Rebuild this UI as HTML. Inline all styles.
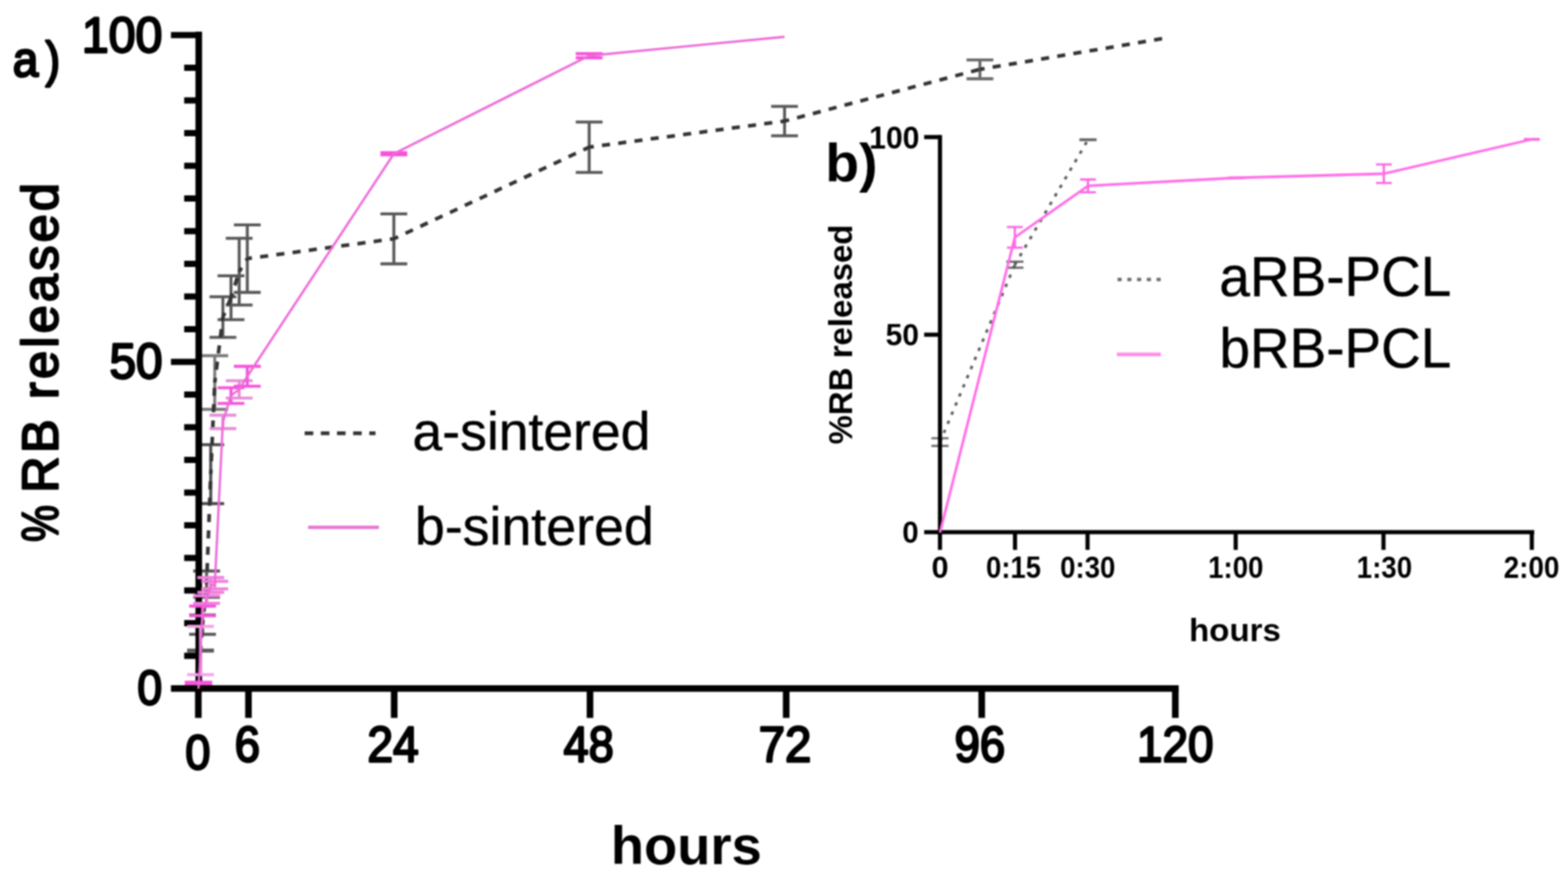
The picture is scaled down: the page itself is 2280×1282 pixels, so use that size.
<!DOCTYPE html>
<html lang="en">
<head>
<meta charset="utf-8">
<title>RB release profiles</title>
<style>
html, body { margin: 0; padding: 0; background: #fff; }
body { width: 2280px; height: 1282px; overflow: hidden; }
svg { display: block; }
#plot { filter: blur(1.0px); }
</style>
</head>
<body>
<svg width="2280" height="1282" viewBox="0 0 2280 1282">
<rect width="2280" height="1282" fill="#fff"/>
<g id="plot">
<path d="M272.1 944.8H311.1M272.1 946.4H311.1M291.6 944.8V946.4" stroke="#585858" stroke-width="4.3" fill="none"/>
<path d="M275.0 894.0H314.0M275.0 922.0H314.0M294.5 894.0V922.0" stroke="#585858" stroke-width="4.3" fill="none"/>
<path d="M280.9 830.0H319.9M280.9 868.0H319.9M300.4 830.0V868.0" stroke="#585858" stroke-width="4.3" fill="none"/>
<path d="M286.9 646.4H325.9M286.9 732.0H325.9M306.4 646.4V732.0" stroke="#4a4a4a" stroke-width="4.3" fill="none"/>
<path d="M292.8 517.0H331.8M292.8 595.0H331.8M312.3 517.0V595.0" stroke="#7a7a7a" stroke-width="4.3" fill="none"/>
<path d="M304.6 431.3H343.6M304.6 490.4H343.6M324.1 431.3V490.4" stroke="#585858" stroke-width="4.3" fill="none"/>
<path d="M316.4 400.9H355.4M316.4 464.6H355.4M335.9 400.9V464.6" stroke="#585858" stroke-width="4.3" fill="none"/>
<path d="M328.3 346.3H367.3M328.3 443.3H367.3M347.8 346.3V443.3" stroke="#585858" stroke-width="4.3" fill="none"/>
<path d="M340.1 326.8H379.1M340.1 425.0H379.1M359.6 326.8V425.0" stroke="#585858" stroke-width="4.3" fill="none"/>
<path d="M553.2 310.8H592.2M553.2 383.5H592.2M572.7 310.8V383.5" stroke="#585858" stroke-width="4.3" fill="none"/>
<path d="M837.2 177.3H876.2M837.2 250.6H876.2M856.7 177.3V250.6" stroke="#585858" stroke-width="4.3" fill="none"/>
<path d="M1121.3 154.6H1160.3M1121.3 197.4H1160.3M1140.8 154.6V197.4" stroke="#585858" stroke-width="4.3" fill="none"/>
<path d="M1405.4 87.2H1444.4M1405.4 114.5H1444.4M1424.9 87.2V114.5" stroke="#6a6a6a" stroke-width="4.3" fill="none"/>
<path d="M288.6 1001.0L291.6 945.6M291.6 945.6L294.5 908.0M294.5 908.0L300.4 849.0M300.4 849.0L306.4 689.2M306.4 689.2L312.3 556.0M312.3 556.0L324.1 460.9M324.1 460.9L335.9 432.8M335.9 432.8L347.8 394.8M347.8 394.8L359.6 375.9M359.6 375.9L572.7 347.1M572.7 347.1L856.7 213.9M856.7 213.9L1140.8 176.0M1140.8 176.0L1424.9 100.8M1424.9 100.8L1700.6 54.4" stroke="#333" stroke-width="5.3" fill="none" stroke-dasharray="11.8 12" stroke-dashoffset="5"/>
<path d="M1354.3 637.0H1379.3M1354.3 648.2H1379.3M1366.8 637.0V648.2" stroke="#6a6a6a" stroke-width="3.2" fill="none"/>
<path d="M1463.2 380.4H1488.2M1463.2 389.2H1488.2M1475.7 380.4V389.2" stroke="#6a6a6a" stroke-width="3.2" fill="none"/>
<path d="M1569.5 202.7H1594.5M1569.5 203.7H1594.5M1582.0 202.7V203.7" stroke="#6a6a6a" stroke-width="3.2" fill="none"/>
<path d="M1366.8 642.6L1475.7 384.8M1475.7 384.8L1582.0 203.2" stroke="#5c5c5c" stroke-width="4.0" fill="none" stroke-dasharray="5 9.4" stroke-dashoffset="0"/>
<g stroke="#000" fill="none">
<path d="M289.0 46.0 V1005.6" stroke-width="9.6"/>
<path d="M248.6 1000.8 H1713.9" stroke-width="9.6"/>
<path d="M267.8 953.3H288.6M267.8 905.8H288.6M267.8 858.3H288.6M267.8 810.9H288.6M267.8 763.4H288.6M267.8 715.9H288.6M267.8 668.4H288.6M267.8 620.9H288.6M267.8 573.4H288.6M248.6 525.9H288.6M267.8 478.5H288.6M267.8 431.0H288.6M267.8 383.5H288.6M267.8 336.0H288.6M267.8 288.5H288.6M267.8 241.0H288.6M267.8 193.6H288.6M267.8 146.1H288.6M267.8 98.6H288.6M248.6 51.1H288.6" stroke-width="9.0"/>
<path d="M288.4 1000.8V1043.5M361.3 1000.8V1043.5M573.2 1000.8V1043.5M857.9 1000.8V1043.5M1143.2 1000.8V1043.5M1427.5 1000.8V1043.5M1709.0 1000.8V1043.5" stroke-width="9.6"/>
</g>
<g stroke="#000" stroke-width="6" fill="none">
<path d="M1366.8 196.3 V799.3"/>
<path d="M1343.8 773.6 H2230.9"/>
<path d="M1343.8 486.4H1366.8M1343.8 199.3H1366.8M1475.9 773.6V799.3M1581.4 773.6V799.3M1796.8 773.6V799.3M2011.7 773.6V799.3M2227.4 773.6V799.3"/>
</g>
<path d="M272.1 910.5H311.1M272.1 980.7H311.1M291.6 910.5V980.7" stroke="#f3a4e6" stroke-width="4.3" fill="none"/>
<path d="M275.0 881.0H314.0M275.0 895.0H314.0M294.5 881.0V895.0" stroke="#f652da" stroke-width="4.3" fill="none"/>
<path d="M280.9 866.0H319.9M280.9 877.0H319.9M300.4 866.0V877.0" stroke="#f07fdc" stroke-width="4.3" fill="none"/>
<path d="M286.9 839.5H325.9M286.9 861.0H325.9M306.4 839.5V861.0" stroke="#f07fdc" stroke-width="4.3" fill="none"/>
<path d="M292.8 845.0H331.8M292.8 856.0H331.8M312.3 845.0V856.0" stroke="#f07fdc" stroke-width="4.3" fill="none"/>
<path d="M304.6 603.5H343.6M304.6 623.0H343.6M324.1 603.5V623.0" stroke="#e48fd6" stroke-width="4.3" fill="none"/>
<path d="M316.4 563.7H355.4M316.4 586.4H355.4M335.9 563.7V586.4" stroke="#f652da" stroke-width="4.3" fill="none"/>
<path d="M328.3 553.3H367.3M328.3 578.6H367.3M347.8 553.3V578.6" stroke="#e48fd6" stroke-width="4.3" fill="none"/>
<path d="M340.1 532.5H379.1M340.1 561.4H379.1M359.6 532.5V561.4" stroke="#f652da" stroke-width="4.3" fill="none"/>
<path d="M553.2 222.0H592.2M553.2 225.0H592.2M572.7 222.0V225.0" stroke="#f652da" stroke-width="4.3" fill="none"/>
<path d="M837.2 78.0H876.2M837.2 84.0H876.2M856.7 78.0V84.0" stroke="#f652da" stroke-width="4.3" fill="none"/>
<path d="M268.6 992.8H308.6" stroke="#f652da" stroke-width="6.4" fill="none"/>
<path d="M288.6 1001.0L291.6 945.6L294.5 888.0L300.4 871.5L306.4 850.2L312.3 850.5L324.1 613.2L335.9 575.0L347.8 566.0L359.6 547.0L572.7 223.5L856.7 81.0L1140.8 53.5" stroke="#ee6ad8" stroke-width="3.4" fill="none" stroke-linejoin="round"/>
<path d="M1464.2 330.0H1487.2M1464.2 360.0H1487.2M1475.7 330.0V360.0" stroke="#fb62e0" stroke-width="3.2" fill="none"/>
<path d="M1570.5 260.9H1593.5M1570.5 279.5H1593.5M1582.0 260.9V279.5" stroke="#fb62e0" stroke-width="3.2" fill="none"/>
<path d="M1785.6 258.0H1808.6M1785.6 259.0H1808.6M1797.1 258.0V259.0" stroke="#fb62e0" stroke-width="3.2" fill="none"/>
<path d="M2000.8 239.0H2023.8M2000.8 266.0H2023.8M2012.2 239.0V266.0" stroke="#fb62e0" stroke-width="3.2" fill="none"/>
<path d="M2215.9 202.0H2238.9M2215.9 203.0H2238.9M2227.4 202.0V203.0" stroke="#fb62e0" stroke-width="3.2" fill="none"/>
<path d="M1366.8 774.0L1475.7 345.0L1582.0 270.2L1797.1 258.5L2012.2 252.5L2227.4 202.5" stroke="#ff6ee6" stroke-width="3.8" fill="none" stroke-linejoin="round"/>
<path d="M443 629.7H546" stroke="#333" stroke-width="5.5" stroke-dasharray="12.5 11"/>
<path d="M448 766.5H551" stroke="#e877d6" stroke-width="5"/>
<path d="M1625 406.2H1688" stroke="#6e6e6e" stroke-width="5" stroke-dasharray="6 8.2"/>
<path d="M1624 515.2H1688" stroke="#ff8cea" stroke-width="5.2"/>
<g font-family="'Liberation Sans', Arial, Helvetica, sans-serif" fill="#000" style="white-space:pre">
<text xml:space="preserve" y="110.84" font-size="73.16" stroke="#000" stroke-width="3.6" stroke-linejoin="round"><tspan x="18.81" textLength="36.97" lengthAdjust="spacingAndGlyphs">a</tspan><tspan x="66.17" textLength="21.01" lengthAdjust="spacingAndGlyphs">)</tspan></text>
<text xml:space="preserve" y="75.63" font-size="72.39" stroke="#000" stroke-width="3.3" stroke-linejoin="round"><tspan x="118.88" textLength="117.17" lengthAdjust="spacingAndGlyphs">100</tspan></text>
<text xml:space="preserve" y="550.32" font-size="72.96" stroke="#000" stroke-width="3.3" stroke-linejoin="round"><tspan x="159.18" textLength="77.17" lengthAdjust="spacingAndGlyphs">50</tspan></text>
<text xml:space="preserve" y="1024.44" font-size="70.56" stroke="#000" stroke-width="3.3" stroke-linejoin="round"><tspan x="199.66" textLength="35.95" lengthAdjust="spacingAndGlyphs">0</tspan></text>
<text xml:space="preserve" y="1118.24" font-size="70.99" stroke="#000" stroke-width="3.3" stroke-linejoin="round"><tspan x="269.53" textLength="36.41" lengthAdjust="spacingAndGlyphs">0</tspan></text>
<text xml:space="preserve" y="1106.54" font-size="71.41" stroke="#000" stroke-width="3.3" stroke-linejoin="round"><tspan x="341.15" textLength="36.76" lengthAdjust="spacingAndGlyphs">6</tspan></text>
<text xml:space="preserve" y="1106.75" font-size="72.71" stroke="#000" stroke-width="3.3" stroke-linejoin="round"><tspan x="534.19" textLength="74.69" lengthAdjust="spacingAndGlyphs">24</tspan></text>
<text xml:space="preserve" y="1106.53" font-size="72.39" stroke="#000" stroke-width="3.3" stroke-linejoin="round"><tspan x="819.61" textLength="72.91" lengthAdjust="spacingAndGlyphs">48</tspan></text>
<text xml:space="preserve" y="1106.75" font-size="72.71" stroke="#000" stroke-width="3.3" stroke-linejoin="round"><tspan x="1103.31" textLength="76.54" lengthAdjust="spacingAndGlyphs">72</tspan></text>
<text xml:space="preserve" y="1106.53" font-size="72.39" stroke="#000" stroke-width="3.3" stroke-linejoin="round"><tspan x="1387.96" textLength="73.79" lengthAdjust="spacingAndGlyphs">96</tspan></text>
<text xml:space="preserve" y="1106.53" font-size="72.39" stroke="#000" stroke-width="3.3" stroke-linejoin="round"><tspan x="1653.36" textLength="111.06" lengthAdjust="spacingAndGlyphs">120</tspan></text>
<text xml:space="preserve" y="1256.23" font-size="77.01" font-weight="bold"><tspan x="888.27" textLength="219.31" lengthAdjust="spacingAndGlyphs">hours</tspan></text>
<text xml:space="preserve" transform="translate(84.07 837.10) rotate(-90)" y="0.00" font-size="73.20" stroke="#000" stroke-width="3.0" stroke-linejoin="round"><tspan x="49.39" textLength="70.31" lengthAdjust="spacingAndGlyphs">% </tspan><tspan x="120.94" style="letter-spacing:4.73px">RB released</tspan></text>
<text xml:space="preserve" y="654.22" font-size="77.55" stroke="#000" stroke-width="0.6" stroke-linejoin="round"><tspan x="599.80" textLength="346.00" lengthAdjust="spacingAndGlyphs">a-sintered</tspan></text>
<text xml:space="preserve" y="791.73" font-size="77.41" stroke="#000" stroke-width="0.6" stroke-linejoin="round"><tspan x="603.22" textLength="347.50" lengthAdjust="spacingAndGlyphs">b-sintered</tspan></text>
<text xml:space="preserve" y="264.09" font-size="78.61" font-weight="bold"><tspan x="1199.97" textLength="75.97" lengthAdjust="spacingAndGlyphs">b)</tspan></text>
<text xml:space="preserve" y="216.14" font-size="45.77" font-weight="bold"><tspan x="1263.75" textLength="73.24" lengthAdjust="spacingAndGlyphs">100</tspan></text>
<text xml:space="preserve" y="502.15" font-size="44.93" font-weight="bold"><tspan x="1287.69" textLength="48.56" lengthAdjust="spacingAndGlyphs">50</tspan></text>
<text xml:space="preserve" y="788.95" font-size="44.93" font-weight="bold"><tspan x="1312.09" textLength="23.77" lengthAdjust="spacingAndGlyphs">0</tspan></text>
<text xml:space="preserve" y="839.55" font-size="44.79" font-weight="bold"><tspan x="1354.41" textLength="24.82" lengthAdjust="spacingAndGlyphs">0</tspan></text>
<text xml:space="preserve" y="839.55" font-size="44.79" font-weight="bold"><tspan x="1433.80" textLength="79.96" lengthAdjust="spacingAndGlyphs">0:15</tspan></text>
<text xml:space="preserve" y="839.55" font-size="44.79" font-weight="bold"><tspan x="1541.50" textLength="80.27" lengthAdjust="spacingAndGlyphs">0:30</tspan></text>
<text xml:space="preserve" y="839.55" font-size="44.79" font-weight="bold"><tspan x="1756.69" textLength="80.38" lengthAdjust="spacingAndGlyphs">1:00</tspan></text>
<text xml:space="preserve" y="839.55" font-size="44.79" font-weight="bold"><tspan x="1972.79" textLength="80.48" lengthAdjust="spacingAndGlyphs">1:30</tspan></text>
<text xml:space="preserve" y="839.55" font-size="44.79" font-weight="bold"><tspan x="2186.48" textLength="81.00" lengthAdjust="spacingAndGlyphs">2:00</tspan></text>
<text xml:space="preserve" y="931.53" font-size="46.94" font-weight="bold"><tspan x="1728.93" textLength="133.63" lengthAdjust="spacingAndGlyphs">hours</tspan></text>
<text xml:space="preserve" transform="translate(1239.03 694.80) rotate(-90)" y="0.00" font-size="47.35" font-weight="bold"><tspan x="48.80" textLength="319.61" lengthAdjust="spacingAndGlyphs">%RB released</tspan></text>
<text xml:space="preserve" y="429.88" font-size="81.83" stroke="#000" stroke-width="0.6" stroke-linejoin="round"><tspan x="1773.11" textLength="337.18" lengthAdjust="spacingAndGlyphs">aRB-PCL</tspan></text>
<text xml:space="preserve" y="533.88" font-size="81.80" stroke="#000" stroke-width="0.6" stroke-linejoin="round"><tspan x="1773.21" textLength="337.07" lengthAdjust="spacingAndGlyphs">bRB-PCL</tspan></text>
</g>
</g>
</svg>
</body>
</html>
